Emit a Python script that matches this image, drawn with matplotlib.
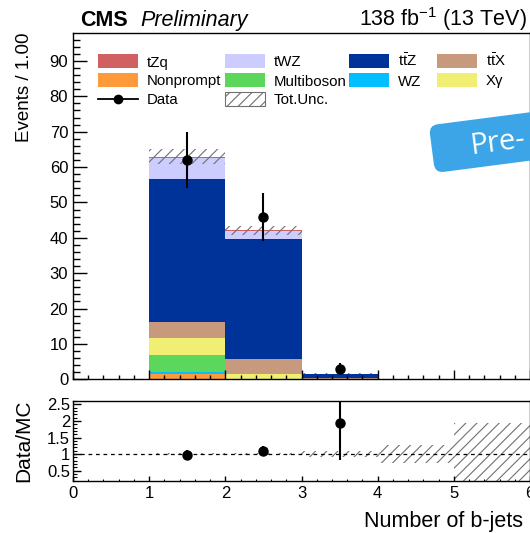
import numpy as np
import matplotlib
matplotlib.use("Agg")
import matplotlib.pyplot as plt
from matplotlib.patches import FancyBboxPatch, Rectangle
from matplotlib.lines import Line2D
from matplotlib.ticker import MultipleLocator
import matplotlib.transforms as mtransforms

plt.rcParams['font.family'] = ['Liberation Sans', 'DejaVu Sans']
plt.rcParams['mathtext.fontset'] = 'custom'
plt.rcParams['mathtext.rm'] = 'Liberation Sans'
plt.rcParams['mathtext.it'] = 'Liberation Sans:italic'
plt.rcParams['mathtext.bf'] = 'Liberation Sans:bold'
plt.rcParams['hatch.linewidth'] = 0.8

# ---------------- data ----------------
bin_edges = [0, 1, 2, 3, 4, 5, 6]
bin_centers = [0.5, 1.5, 2.5, 3.5, 4.5, 5.5]

# stacked backgrounds, bottom -> top
nonprompt  = [0.0, 1.4, 0.1, 0.0, 0.0, 0.0]
wz         = [0.0, 0.6, 0.0, 0.0, 0.0, 0.0]
multiboson = [0.0, 5.0, 0.0, 0.0, 0.0, 0.0]
xgamma     = [0.0, 4.6, 1.4, 0.0, 0.0, 0.0]
ttx        = [0.0, 4.5, 4.1, 0.35, 0.0, 0.0]
ttz        = [0.0, 40.4, 34.2, 1.15, 0.05, 0.01]
twz        = [0.0, 6.0, 2.1, 0.05, 0.0, 0.0]
tzq        = [0.0, 0.4, 0.2, 0.0, 0.0, 0.0]

data       = [0, 62, 46, 3, 0, 0]
rel_unc    = [0.0, 0.033, 0.029, 0.08, 0.27, 0.93]

colors = {
    "tZq": "#D06062",
    "tWZ": "#CCCCFF",
    "ttZ": "#003399",
    "ttX": "#C79A7E",
    "Nonprompt": "#FF9A3A",
    "Multiboson": "#5CD65B",
    "WZ": "#00BFFF",
    "Xgamma": "#F0EF73",
}

stack = [
    ("Nonprompt", nonprompt),
    ("WZ", wz),
    ("Multiboson", multiboson),
    ("Xgamma", xgamma),
    ("ttX", ttx),
    ("ttZ", ttz),
    ("tWZ", twz),
    ("tZq", tzq),
]

# legend entries: (label, kind/colour key), laid out row by row, 4 columns
legend_rows = [
    [("tZq", "tZq"), ("tWZ", "tWZ"), (r"t$\bar{\rm t}$Z", "ttZ"), (r"t$\bar{\rm t}$X", "ttX")],
    [("Nonprompt", "Nonprompt"), ("Multiboson", "Multiboson"), ("WZ", "WZ"), ("Xγ", "Xgamma")],
    [("Data", "data"), ("Tot.Unc.", "unc")],
]

W, H = 530, 533
fig = plt.figure(figsize=(W / 100, H / 100), dpi=100)

def ax_rect(l, r, t, b):
    return [l / W, 1 - b / H, (r - l) / W, (b - t) / H]

ax = fig.add_axes(ax_rect(73, 530, 33, 379.3))
rax = fig.add_axes(ax_rect(73, 530, 401, 481))

widths = np.diff(bin_edges)
lefts = np.array(bin_edges[:-1])
bottom = np.zeros(len(bin_centers))
for key, vals in stack:
    vals = np.array(vals)
    ax.bar(lefts, vals, width=widths, bottom=bottom, align='edge',
           color=colors[key], edgecolor='none', linewidth=0)
    bottom = bottom + vals
total = bottom

HATCH_COL = '#707070'
# total uncertainty band
unc = total * np.array(rel_unc)
ax.bar(lefts, 2 * unc, width=widths, bottom=total - unc, align='edge',
       facecolor='none', edgecolor=HATCH_COL, hatch='///', linewidth=0)

# data
data = np.array(data, dtype=float)
mask = data > 0
derr = np.sqrt(data)
ax.errorbar(np.array(bin_centers)[mask], data[mask], yerr=derr[mask], fmt='o',
            color='black', markersize=6.5, elinewidth=1.5, capsize=0, zorder=5)

ax.set_xlim(0, 6)
ax.set_ylim(0, 97.9)
ax.yaxis.set_major_locator(MultipleLocator(10))
ax.yaxis.set_minor_locator(MultipleLocator(2))
ax.xaxis.set_major_locator(MultipleLocator(1))
ax.xaxis.set_minor_locator(MultipleLocator(0.2))
ax.tick_params(axis='both', which='both', direction='in', labelsize=12, top=False, right=False)
ax.tick_params(axis='y', which='major', length=10, width=1)
ax.tick_params(axis='y', which='minor', length=5, width=1)
ax.tick_params(axis='x', which='major', length=6.5, width=1)
ax.tick_params(axis='x', which='minor', length=3.2, width=1)
ax.tick_params(axis='x', labelbottom=False)
for s in ax.spines.values():
    s.set_linewidth(1.0)
ax.set_ylabel("Events / 1.00", fontsize=13.5, loc='top')
ax.yaxis.set_label_coords(-40 / 457, 1.0)

# manual ROOT-like legend (pixel positions)
def fx(x):
    return x / W

def fy(y):
    return 1 - y / H

col_x = [98, 225, 349, 437]
row_y = [61, 80, 99]
sw_w, sw_h = 40, 13
for r, row in enumerate(legend_rows):
    for c, (lab, key) in enumerate(row):
        x0, yc = col_x[c], row_y[r]
        if key == "data":
            fig.add_artist(Line2D([fx(x0), fx(x0 + sw_w)], [fy(yc), fy(yc)], color='black',
                                  lw=1.3, transform=fig.transFigure))
            fig.add_artist(Line2D([fx(x0 + sw_w / 2)], [fy(yc)], color='black', marker='o',
                                  markersize=6, lw=0, transform=fig.transFigure))
        elif key == "unc":
            fig.add_artist(Rectangle((fx(x0), fy(yc + sw_h / 2)), sw_w / W, sw_h / H,
                                     facecolor='white', edgecolor=HATCH_COL, hatch='///',
                                     linewidth=0.8, transform=fig.transFigure))
        else:
            fig.add_artist(Rectangle((fx(x0), fy(yc + sw_h / 2)), sw_w / W, sw_h / H,
                                     facecolor=colors[key], edgecolor='none',
                                     transform=fig.transFigure))
        fig.text(fx(x0 + 49), fy(yc + 5.5), lab, fontsize=10.8, ha='left', va='baseline')

# ratio panel
data_r = np.where(mask, data / np.where(total > 0, total, 1), np.nan)
err_r = np.where(mask, derr / np.where(total > 0, total, 1), np.nan)
rax.bar(lefts, 2 * np.array(rel_unc), width=widths, bottom=1 - np.array(rel_unc),
        align='edge', facecolor='none', edgecolor=HATCH_COL, hatch='///', linewidth=0)
rax.axhline(1.0, color='black', lw=0.9, ls=(0, (3, 3)))
rax.errorbar(np.array(bin_centers)[mask], data_r[mask], yerr=err_r[mask], fmt='o',
             color='black', markersize=6.5, elinewidth=1.5, capsize=0, zorder=5)
rax.set_xlim(0, 6)
rax.set_ylim(0.19, 2.6)
rax.yaxis.set_major_locator(MultipleLocator(0.5))
rax.yaxis.set_minor_locator(MultipleLocator(0.1))
rax.xaxis.set_major_locator(MultipleLocator(1))
rax.xaxis.set_minor_locator(MultipleLocator(0.2))
rax.tick_params(axis='both', which='both', direction='in', labelsize=12, top=False, right=False)
rax.tick_params(axis='y', which='major', length=6, width=1, pad=2)
rax.tick_params(axis='y', which='minor', length=3, width=0.8)
rax.tick_params(axis='x', which='major', length=3.5, width=1)
rax.tick_params(axis='x', which='minor', length=1.8, width=0.8)
rax.set_yticks([0.5, 1, 1.5, 2, 2.5])
rax.set_yticklabels(["0.5", "1", "1.5", "2", "2.5"])
for s in rax.spines.values():
    s.set_linewidth(1.0)
rax.set_ylabel("Data/MC", fontsize=15)
rax.yaxis.set_label_coords(-40 / 457, 0.5)
rax.set_xlabel("Number of b-jets", fontsize=15.5, ha='right', va='center')
rax.xaxis.set_label_coords((523 - 73) / 457, -(521 - 481) / 80)

# header
fig.text(80 / W, 1 - 26 / H, "CMS", fontsize=15.5, fontweight='bold', ha='left', va='baseline')
fig.text(140 / W, 1 - 26 / H, "Preliminary", fontsize=15.5, style='italic', ha='left', va='baseline')
fig.text(527 / W, 1 - 26 / H, r"138 fb$^{-1}$ (13 TeV)", fontsize=15.5, ha='right', va='baseline')

# rotated badge (cut at right edge)
tr = mtransforms.Affine2D().rotate_deg(7.4).translate(435, H - 173)
badge = FancyBboxPatch((0, 0), 200, 48, boxstyle="round,pad=0,rounding_size=9",
                       facecolor='#3BA5E7', edgecolor='none',
                       transform=tr, zorder=10)
fig.patches.append(badge)
fig.text(497 / W, 1 - 143 / H, "Pre-", color='white', fontsize=21, rotation=7.4,
         ha='center', va='center', family=['Open Sans', 'DejaVu Sans'], zorder=11)

fig.savefig("out.png", dpi=100)
